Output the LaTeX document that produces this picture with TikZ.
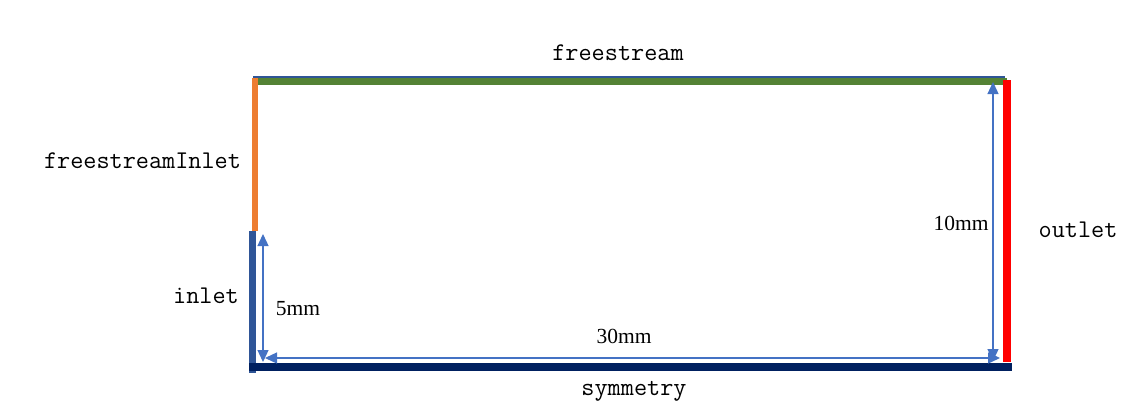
\documentclass[tikz,border=0pt]{standalone}
\usepackage{fontspec}
\setmainfont{Liberation Serif}
\setmonofont{Latin Modern Mono}
\usetikzlibrary{arrows.meta}
\definecolor{cgreen}{HTML}{548235}
\definecolor{corange}{HTML}{ED7D31}
\definecolor{cblue}{HTML}{2F5597}
\definecolor{cnavy}{HTML}{002060}
\definecolor{cred}{HTML}{FF0000}
\definecolor{carrow}{HTML}{4472C4}
\tikzset{
  bclabel/.style={font=\ttfamily\fontsize{25.5}{25.5}\selectfont, anchor=base, inner sep=0pt},
  dimlabel/.style={font=\fontsize{21.5}{21.5}\selectfont, anchor=base, inner sep=0pt},
  dimarrow/.style={draw=carrow, line width=1.3pt, {Triangle[length=12pt,width=11pt]}-{Triangle[length=12pt,width=11pt]}},
}
\begin{document}
\begin{tikzpicture}[x=1pt,y=-1pt]
\useasboundingbox (0,0) rectangle (1147,412);
% corners
\coordinate (tl) at (255,78);
\coordinate (tr) at (1007,81);
\coordinate (ml) at (255,231);
\coordinate (il) at (252,231);
\coordinate (bl) at (252,373);
\coordinate (br) at (1007,362);
% boundaries
\draw[cblue, line width=2pt] (253,77) -- (1005,77);
\draw[cgreen, line width=7pt] (257,81.5) -- (1007,81.5);
\draw[corange, line width=6pt] (tl) -- (ml);
\draw[cblue, line width=7pt] (il) -- (bl);
\draw[cred, line width=8pt] (1007,80) -- (br);
\draw[cnavy, line width=8pt] (249,367) -- (1012,367);
% dimension arrows
\coordinate (a5t) at (263,234);
\coordinate (a5b) at (263,362);
\coordinate (a30l) at (265,358);
\coordinate (a30r) at (1000,358);
\coordinate (a10t) at (993,82);
\coordinate (a10b) at (993,361);
\draw[dimarrow] (a5t) -- (a5b);
\draw[dimarrow] (a30l) -- (a30r);
\draw[dimarrow] (a10t) -- (a10b);
% labels
\node[bclabel] (fs) at (618,60) {freestream};
\node[bclabel] (fsi) at (142.5,168) {freestreamInlet};
\node[bclabel] (inl) at (206,303) {inlet};
\node[bclabel] (out) at (1078,237) {outlet};
\node[bclabel] (sym) at (634,395) {symmetry};
\node[dimlabel] (d5) at (298,315) {5mm};
\node[dimlabel] (d30) at (624,343) {30mm};
\node[dimlabel] (d10) at (961,230) {10mm};
\end{tikzpicture}
\end{document}
